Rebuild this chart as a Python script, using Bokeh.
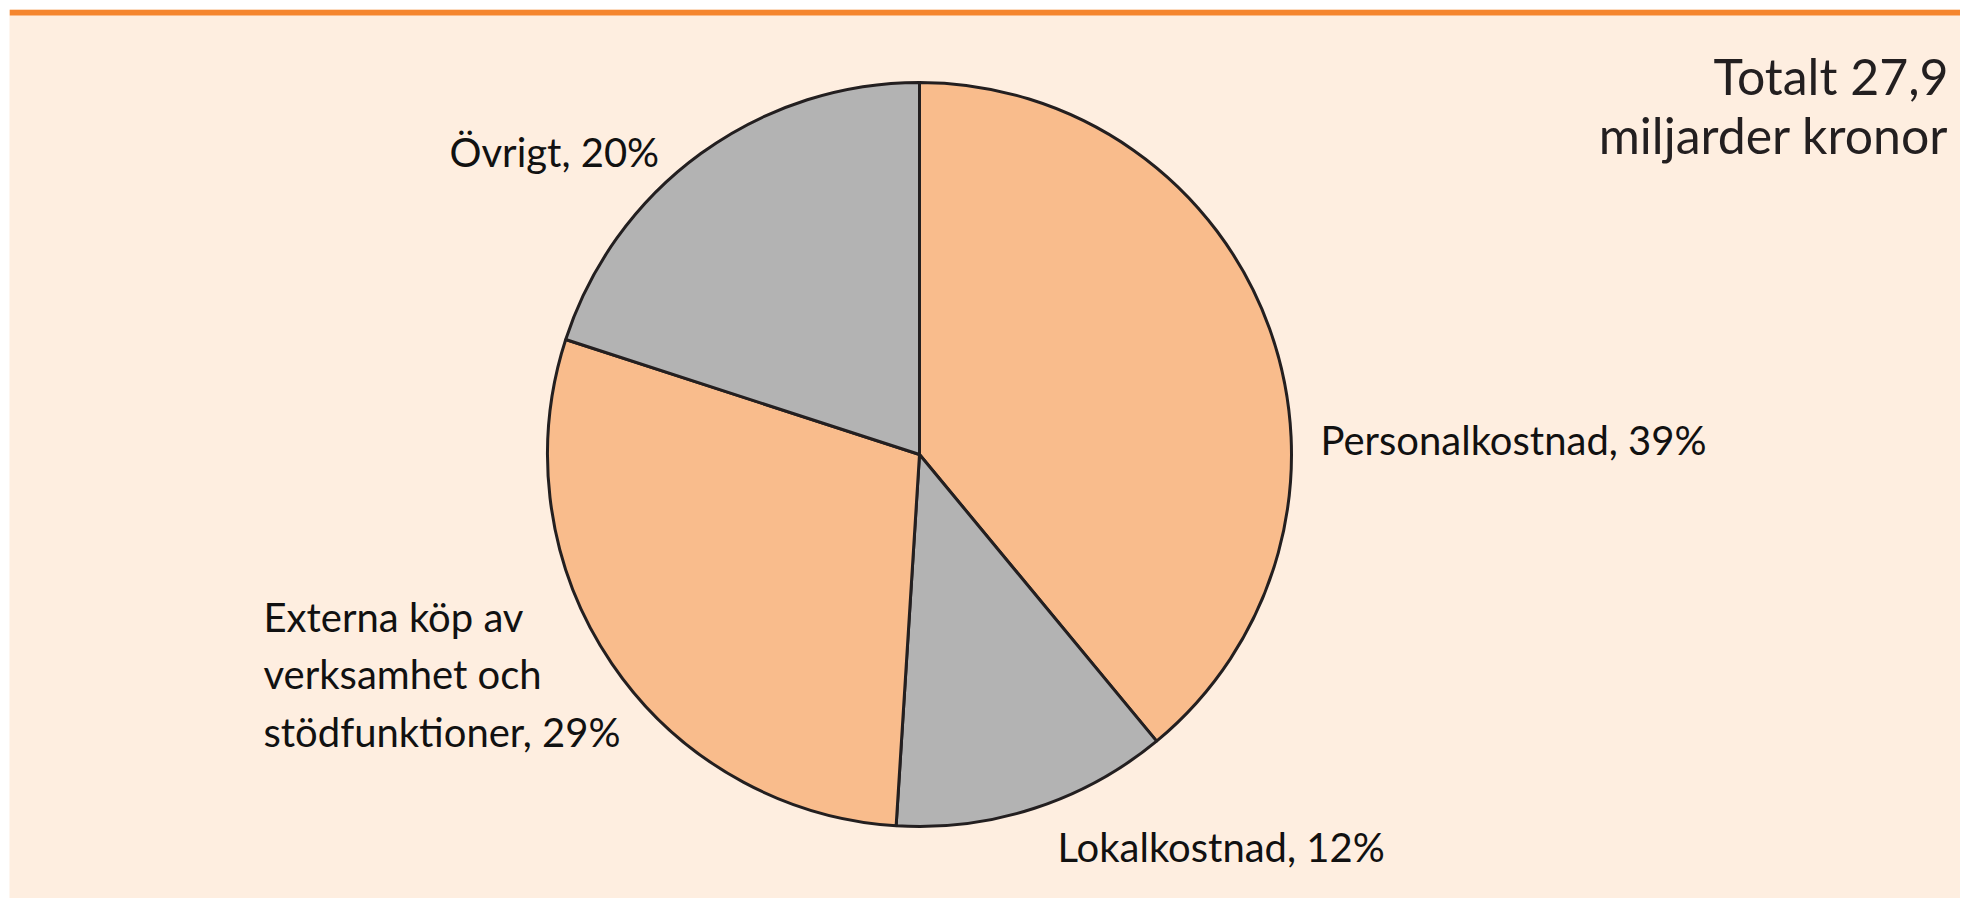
import math
from bokeh.plotting import figure
from bokeh.models import ColumnDataSource, Range1d, BoxAnnotation
from bokeh.core.properties import value
from bokeh.embed import file_html
from bokeh.resources import INLINE

# ---- data ----
categories = ["Personalkostnad", "Lokalkostnad",
              "Externa köp av\nverksamhet och\nstödfunktioner", "Övrigt"]
shares = [39, 12, 29, 20]
slice_colors = ["#F9BC8C", "#B3B3B3", "#F9BC8C", "#B3B3B3"]
title_lines = ["Totalt 27,9", "miljarder kronor"]

W, H = 1960, 898
PAD = 9
FW, FH = W - PAD, H - PAD
FONT = "Lato"

p = figure(width=W, height=H, output_backend="svg", toolbar_location=None,
           x_range=Range1d(0, FW), y_range=Range1d(0, FH),
           min_border=0, min_border_left=PAD, min_border_top=PAD)
p.axis.visible = False
p.grid.visible = False
p.outline_line_color = None
p.background_fill_color = "#FEEEE0"
p.border_fill_color = "white"

# top orange rule
p.add_layout(BoxAnnotation(bottom=FH - 6, top=FH, fill_color="#F5862F",
                           fill_alpha=1, line_color=None))

# pie
cx, cy, r = 910, 444, 372
total = sum(shares)
starts, ends = [], []
cum = 0
for s in shares:
    a0 = math.pi / 2 - 2 * math.pi * cum / total
    cum += s
    a1 = math.pi / 2 - 2 * math.pi * cum / total
    starts.append(a1)
    ends.append(a0)
src = ColumnDataSource(dict(x=[cx] * len(shares), y=[cy] * len(shares),
                            start=starts, end=ends, color=slice_colors))
p.wedge(x="x", y="y", radius=r, start_angle="start", end_angle="end",
        fill_color="color", line_color="#231F20", line_width=3, source=src)

# labels: (left x, first-line baseline y) per slice
label_pos = [(1311, 459), (1048, 52), (254, 282), (440, 747)]
line_gap = 57.5
lx, ly, lt = [], [], []
for name, s, (x0, y0) in zip(categories, shares, label_pos):
    lines = f"{name}, {s}%".split("\n")
    for i, ln in enumerate(lines):
        lx.append(x0)
        ly.append(y0 - i * line_gap)
        lt.append(ln)
p.text(x=lx, y=ly, text=lt, text_font=value(FONT), text_font_size="40px",
       text_color="#111111", text_align="left", text_baseline="alphabetic")

# title
p.text(x=[1939, 1939], y=[823, 764], text=title_lines, text_font=value(FONT),
       text_font_size="50px", text_color="#231F20", text_align="right",
       text_baseline="alphabetic")

open("out.html", "w").write(file_html(p, INLINE))
